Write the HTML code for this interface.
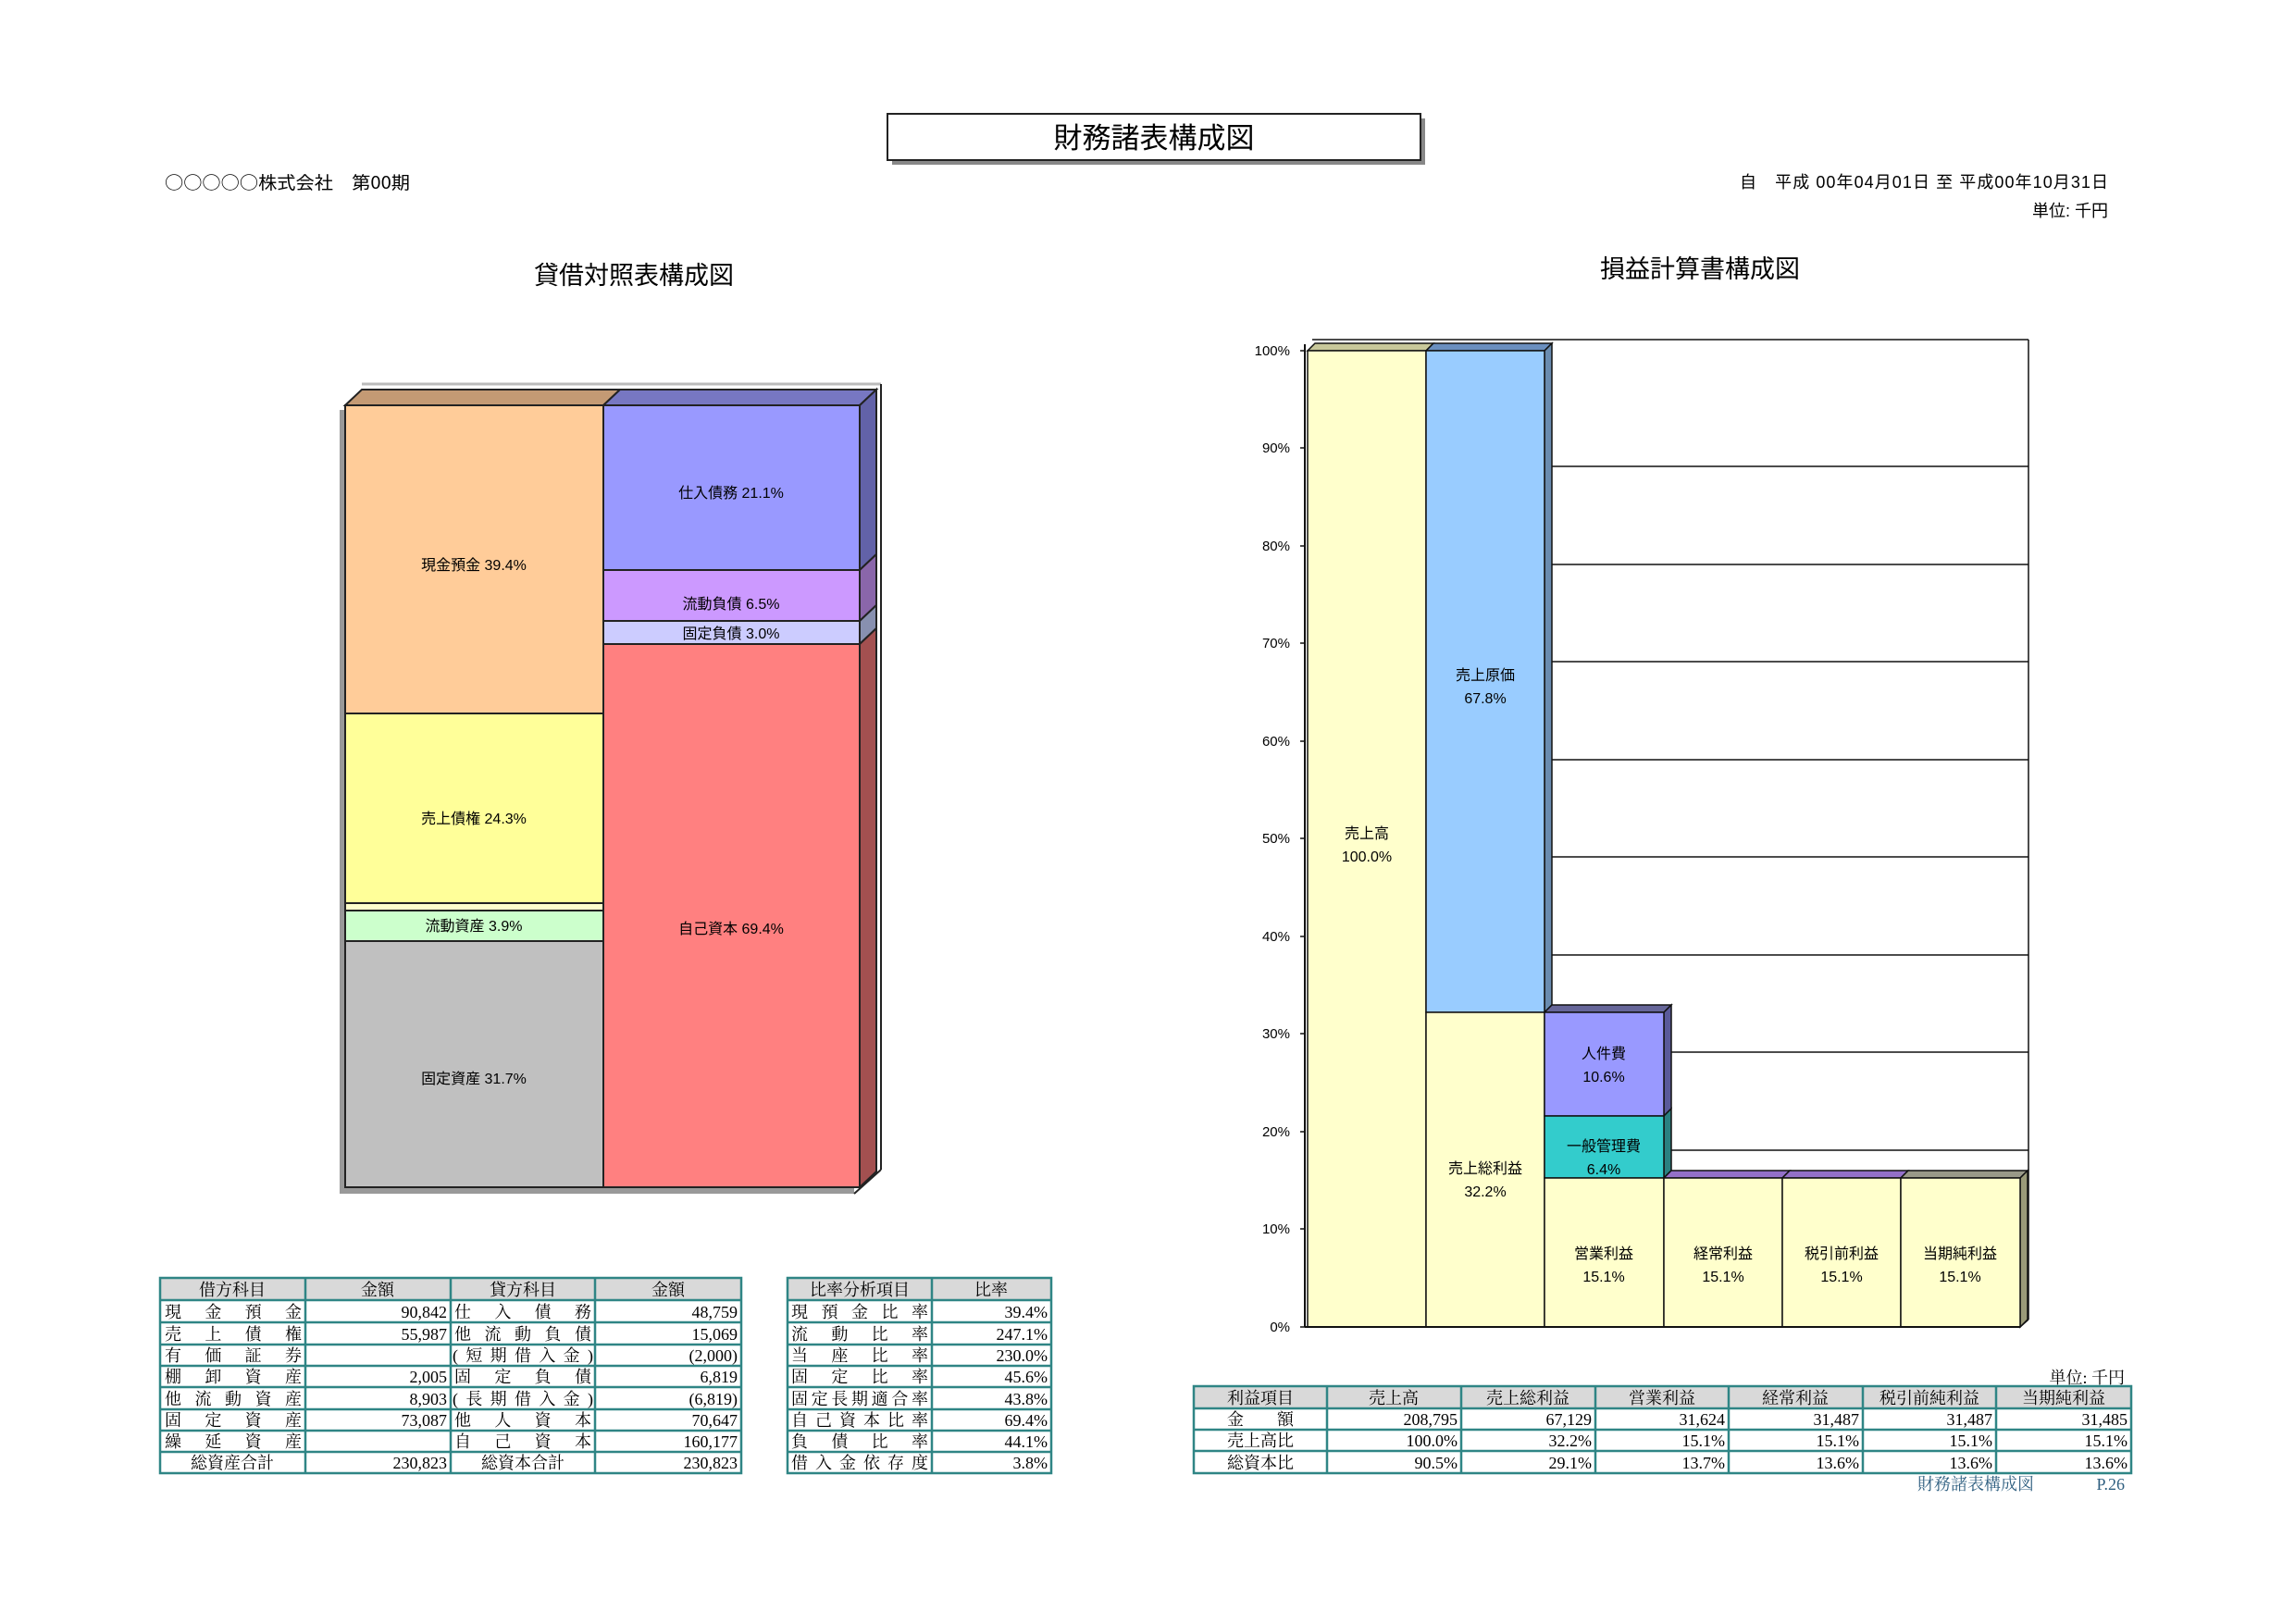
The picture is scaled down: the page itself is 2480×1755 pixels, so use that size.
<!DOCTYPE html>
<html><head><meta charset="utf-8">
<style>
html,body{margin:0;padding:0;background:#fff;}
svg{display:block;}
.s{font-family:"Liberation Sans","Noto Sans CJK JP",sans-serif;}
.m{font-family:"Liberation Serif","Noto Serif CJK SC",serif;}
.c{font-family:"Noto Sans CJK JP",sans-serif;}
</style></head>
<body>
<svg width="2480" height="1755" viewBox="0 0 2480 1755" xmlns="http://www.w3.org/2000/svg">
<!-- Title -->
<rect x="964" y="128" width="576" height="50" fill="#888"/>
<rect x="959" y="123" width="576" height="50" fill="#fff" stroke="#222" stroke-width="2"/>
<text x="1247" y="160" class="s" font-size="31" text-anchor="middle">財務諸表構成図</text>
<text x="178" y="204" class="c" font-size="19" textLength="265" lengthAdjust="spacingAndGlyphs">○○○○○株式会社　第00期</text>
<text x="1880" y="203" class="s" font-size="18" textLength="398" lengthAdjust="spacing">自　平成 00年04月01日 至 平成00年10月31日</text>
<text x="2278" y="234" class="s" font-size="18" text-anchor="end">単位: 千円</text>
<text x="685" y="307" class="s" font-size="27" text-anchor="middle">貸借対照表構成図</text>
<text x="1837" y="300" class="s" font-size="27" text-anchor="middle">損益計算書構成図</text>

<!-- BS chart -->
<g stroke="#222" stroke-width="2">
<line x1="391" y1="415" x2="952" y2="415" stroke="#bbb" stroke-width="3"/>
<rect x="367" y="443" width="6" height="847" fill="#999" stroke="none"/>
<rect x="367" y="1283" width="556" height="7" fill="#999" stroke="none"/>
<line x1="952" y1="415" x2="952" y2="1264" stroke="#222"/>
<line x1="923" y1="1290" x2="952" y2="1264"/>
<polygon points="373,438 391,421 670,421 652,438" fill="#c49a74"/>
<polygon points="652,438 670,421 947,421 929,438" fill="#7777c2"/>
<polygon points="929,438 947,421 947,599 929,616" fill="#6262a8"/>
<polygon points="929,616 947,599 947,654 929,671" fill="#8a66aa"/>
<polygon points="929,671 947,654 947,679 929,696" fill="#8890b0"/>
<polygon points="929,696 947,679 947,1266 929,1283" fill="#a35050"/>
<rect x="373" y="438" width="279" height="333" fill="#ffcc99"/>
<rect x="373" y="771" width="279" height="205" fill="#ffff99"/>
<rect x="373" y="976" width="279" height="8" fill="#ffffcc"/>
<rect x="373" y="984" width="279" height="33" fill="#ccffcc"/>
<rect x="373" y="1017" width="279" height="266" fill="#c0c0c0"/>
<rect x="652" y="438" width="277" height="178" fill="#9999ff"/>
<rect x="652" y="616" width="277" height="55" fill="#cc99ff"/>
<rect x="652" y="671" width="277" height="25" fill="#ccccff"/>
<rect x="652" y="696" width="277" height="587" fill="#ff8080"/>
</g>
<g class="s" font-size="16" text-anchor="middle">
<text x="512" y="616">現金預金  39.4%</text>
<text x="512" y="890">売上債権  24.3%</text>
<text x="512" y="1006">流動資産  3.9%</text>
<text x="512" y="1171">固定資産  31.7%</text>
<text x="790" y="538">仕入債務  21.1%</text>
<text x="790" y="658">流動負債  6.5%</text>
<text x="790" y="690">固定負債  3.0%</text>
<text x="790" y="1009">自己資本  69.4%</text>
</g>

<!-- PL chart -->
<g stroke="#111" stroke-width="1.5">
<line x1="1418" y1="367" x2="2192" y2="367"/>
<line x1="2192" y1="367" x2="2192" y2="1426"/>
<line x1="1418" y1="504" x2="2192" y2="504"/>
<line x1="1418" y1="610" x2="2192" y2="610"/>
<line x1="1418" y1="715" x2="2192" y2="715"/>
<line x1="1418" y1="821" x2="2192" y2="821"/>
<line x1="1418" y1="926" x2="2192" y2="926"/>
<line x1="1418" y1="1032" x2="2192" y2="1032"/>
<line x1="1418" y1="1137" x2="2192" y2="1137"/>
<line x1="1418" y1="1243" x2="2192" y2="1243"/>
<line x1="2183" y1="1434" x2="2192" y2="1426"/>
</g>
<g stroke="#111" stroke-width="1.5">
<polygon points="1413,379 1421,371 1549,371 1541,379" fill="#c8c89a"/>
<polygon points="1541,379 1549,371 1677,371 1669,379" fill="#6a8fbf"/>
<polygon points="1669,379 1677,371 1677,1086 1669,1094" fill="#6a8cb0"/>
<polygon points="1669,1094 1677,1086 1806,1086 1798,1094" fill="#666699"/>
<polygon points="1798,1094 1806,1086 1806,1198 1798,1206" fill="#5a5a9a"/>
<polygon points="1798,1206 1806,1198 1806,1265 1798,1273" fill="#2a8080"/>
<polygon points="1798,1273 1806,1265 1934,1265 1926,1273" fill="#9370c8"/>
<polygon points="1926,1273 1934,1265 2062,1265 2054,1273" fill="#9370c8"/>
<polygon points="2054,1273 2062,1265 2191,1265 2183,1273" fill="#999988"/>
<polygon points="2183,1273 2191,1265 2191,1426 2183,1434" fill="#9a9a78"/>
<rect x="1413" y="379" width="128" height="1055" fill="#ffffcc"/>
<rect x="1541" y="379" width="128" height="715" fill="#99ccff"/>
<rect x="1541" y="1094" width="128" height="340" fill="#ffffcc"/>
<rect x="1669" y="1094" width="129" height="112" fill="#9999ff"/>
<rect x="1669" y="1206" width="129" height="67" fill="#33cccc"/>
<rect x="1669" y="1273" width="129" height="161" fill="#ffffcc"/>
<rect x="1798" y="1273" width="128" height="161" fill="#ffffcc"/>
<rect x="1926" y="1273" width="128" height="161" fill="#ffffcc"/>
<rect x="2054" y="1273" width="129" height="161" fill="#ffffcc"/>
<line x1="1410" y1="372" x2="1410" y2="1434" stroke-width="2"/>
<line x1="1410" y1="1434" x2="2183" y2="1434" stroke-width="2"/>
<g stroke-width="1.5">
<line x1="1405" y1="379" x2="1410" y2="379"/><line x1="1405" y1="484" x2="1410" y2="484"/>
<line x1="1405" y1="590" x2="1410" y2="590"/><line x1="1405" y1="695" x2="1410" y2="695"/>
<line x1="1405" y1="801" x2="1410" y2="801"/><line x1="1405" y1="906" x2="1410" y2="906"/>
<line x1="1405" y1="1012" x2="1410" y2="1012"/><line x1="1405" y1="1117" x2="1410" y2="1117"/>
<line x1="1405" y1="1223" x2="1410" y2="1223"/><line x1="1405" y1="1328" x2="1410" y2="1328"/>
<line x1="1405" y1="1434" x2="1410" y2="1434"/>
</g>
</g>
<g class="s" font-size="15" text-anchor="end">
<text x="1394" y="384">100%</text><text x="1394" y="489">90%</text>
<text x="1394" y="595">80%</text><text x="1394" y="700">70%</text>
<text x="1394" y="806">60%</text><text x="1394" y="911">50%</text>
<text x="1394" y="1017">40%</text><text x="1394" y="1122">30%</text>
<text x="1394" y="1228">20%</text><text x="1394" y="1333">10%</text>
<text x="1394" y="1439">0%</text>
</g>
<g class="s" font-size="16" text-anchor="middle">
<text x="1477" y="906">売上高</text><text x="1477" y="931">100.0%</text>
<text x="1605" y="735">売上原価</text><text x="1605" y="760">67.8%</text>
<text x="1605" y="1268">売上総利益</text><text x="1605" y="1293">32.2%</text>
<text x="1733" y="1144">人件費</text><text x="1733" y="1169">10.6%</text>
<text x="1733" y="1244">一般管理費</text><text x="1733" y="1269">6.4%</text>
<text x="1733" y="1360">営業利益</text><text x="1733" y="1385">15.1%</text>
<text x="1862" y="1360">経常利益</text><text x="1862" y="1385">15.1%</text>
<text x="1990" y="1360">税引前利益</text><text x="1990" y="1385">15.1%</text>
<text x="2118" y="1360">当期純利益</text><text x="2118" y="1385">15.1%</text>
</g>

<!-- BS table -->
<rect x="173" y="1381" width="628" height="24" fill="#d9d9d9"/>
<rect x="851" y="1381" width="285" height="24" fill="#d9d9d9"/>
<g stroke="#2f8585" stroke-width="2.5" fill="none">
<rect x="173" y="1381" width="628" height="211"/>
<rect x="851" y="1381" width="285" height="211"/>
<line x1="330" y1="1381" x2="330" y2="1592"/><line x1="487" y1="1381" x2="487" y2="1592"/>
<line x1="643" y1="1381" x2="643" y2="1592"/><line x1="1007" y1="1381" x2="1007" y2="1592"/>
<path d="M173 1405H801M173 1429H801M173 1453H801M173 1476H801M173 1499H801M173 1523H801M173 1546H801M173 1569H801"/>
<path d="M851 1405H1136M851 1429H1136M851 1453H1136M851 1476H1136M851 1499H1136M851 1523H1136M851 1546H1136M851 1569H1136"/>
</g>
<g class="m" font-size="18">
<g text-anchor="middle">
<text x="251" y="1400">借方科目</text><text x="408" y="1400">金額</text>
<text x="565" y="1400">貸方科目</text><text x="722" y="1400">金額</text>
<text x="929" y="1400">比率分析項目</text><text x="1071" y="1400">比率</text>
<text x="251" y="1587">総資産合計</text><text x="565" y="1587">総資本合計</text>
</g>
<g>
<text x="178" y="1424" textLength="148" lengthAdjust="spacing">現金預金</text>
<text x="178" y="1448" textLength="148" lengthAdjust="spacing">売上債権</text>
<text x="178" y="1471" textLength="148" lengthAdjust="spacing">有価証券</text>
<text x="178" y="1494" textLength="148" lengthAdjust="spacing">棚卸資産</text>
<text x="178" y="1518" textLength="148" lengthAdjust="spacing">他流動資産</text>
<text x="178" y="1541" textLength="148" lengthAdjust="spacing">固定資産</text>
<text x="178" y="1564" textLength="148" lengthAdjust="spacing">繰延資産</text>
<text x="491" y="1424" textLength="148" lengthAdjust="spacing">仕入債務</text>
<text x="491" y="1448" textLength="148" lengthAdjust="spacing">他流動負債</text>
<text x="489" y="1471" textLength="152" lengthAdjust="spacing">(短期借入金)</text>
<text x="491" y="1494" textLength="148" lengthAdjust="spacing">固定負債</text>
<text x="489" y="1518" textLength="152" lengthAdjust="spacing">(長期借入金)</text>
<text x="491" y="1541" textLength="148" lengthAdjust="spacing">他人資本</text>
<text x="491" y="1564" textLength="148" lengthAdjust="spacing">自己資本</text>
<text x="855" y="1424" textLength="148" lengthAdjust="spacing">現預金比率</text>
<text x="855" y="1448" textLength="148" lengthAdjust="spacing">流動比率</text>
<text x="855" y="1471" textLength="148" lengthAdjust="spacing">当座比率</text>
<text x="855" y="1494" textLength="148" lengthAdjust="spacing">固定比率</text>
<text x="855" y="1518" textLength="148" lengthAdjust="spacing">固定長期適合率</text>
<text x="855" y="1541" textLength="148" lengthAdjust="spacing">自己資本比率</text>
<text x="855" y="1564" textLength="148" lengthAdjust="spacing">負債比率</text>
<text x="855" y="1587" textLength="148" lengthAdjust="spacing">借入金依存度</text>
</g>
<g text-anchor="end">
<text x="483" y="1424">90,842</text><text x="483" y="1448">55,987</text>
<text x="483" y="1494">2,005</text><text x="483" y="1518">8,903</text>
<text x="483" y="1541">73,087</text><text x="483" y="1587">230,823</text>
<text x="797" y="1424">48,759</text><text x="797" y="1448">15,069</text>
<text x="797" y="1471">(2,000)</text><text x="797" y="1494">6,819</text>
<text x="797" y="1518">(6,819)</text><text x="797" y="1541">70,647</text>
<text x="797" y="1564">160,177</text><text x="797" y="1587">230,823</text>
<text x="1132" y="1424">39.4%</text><text x="1132" y="1448">247.1%</text>
<text x="1132" y="1471">230.0%</text><text x="1132" y="1494">45.6%</text>
<text x="1132" y="1518">43.8%</text><text x="1132" y="1541">69.4%</text>
<text x="1132" y="1564">44.1%</text><text x="1132" y="1587">3.8%</text>
</g>
</g>

<!-- PL table -->
<text x="2296" y="1495" class="m" font-size="18" text-anchor="end">単位: 千円</text>
<rect x="1290" y="1498" width="1013" height="24" fill="#d9d9d9"/>
<g stroke="#2f8585" stroke-width="2.5" fill="none">
<rect x="1290" y="1498" width="1013" height="94"/>
<path d="M1290 1522H2303M1290 1545H2303M1290 1568H2303"/>
<path d="M1434 1498V1592M1579 1498V1592M1724 1498V1592M1868 1498V1592M2013 1498V1592M2157 1498V1592"/>
</g>
<g class="m" font-size="18">
<g text-anchor="middle">
<text x="1362" y="1517">利益項目</text><text x="1506" y="1517">売上高</text>
<text x="1651" y="1517">売上総利益</text><text x="1796" y="1517">営業利益</text>
<text x="1940" y="1517">経常利益</text><text x="2085" y="1517">税引前純利益</text>
<text x="2230" y="1517">当期純利益</text>
<text x="1362" y="1540">金　　額</text>
<text x="1362" y="1563">売上高比</text>
<text x="1362" y="1587">総資本比</text>
</g>
<g text-anchor="end">
<text x="1575" y="1540">208,795</text>
<text x="1720" y="1540">67,129</text>
<text x="1864" y="1540">31,624</text>
<text x="2009" y="1540">31,487</text>
<text x="2153" y="1540">31,487</text>
<text x="2299" y="1540">31,485</text>
<text x="1575" y="1563">100.0%</text><text x="1720" y="1563">32.2%</text>
<text x="1864" y="1563">15.1%</text><text x="2009" y="1563">15.1%</text>
<text x="2153" y="1563">15.1%</text><text x="2299" y="1563">15.1%</text>
<text x="1575" y="1587">90.5%</text><text x="1720" y="1587">29.1%</text>
<text x="1864" y="1587">13.7%</text><text x="2009" y="1587">13.6%</text>
<text x="2153" y="1587">13.6%</text><text x="2299" y="1587">13.6%</text>
</g>
</g>
<text x="2072" y="1610" class="m" font-size="18" fill="#2f5f80">財務諸表構成図</text>
<text x="2296" y="1610" class="m" font-size="18" fill="#2f5f80" text-anchor="end">P.26</text>
</svg>
</body></html>
